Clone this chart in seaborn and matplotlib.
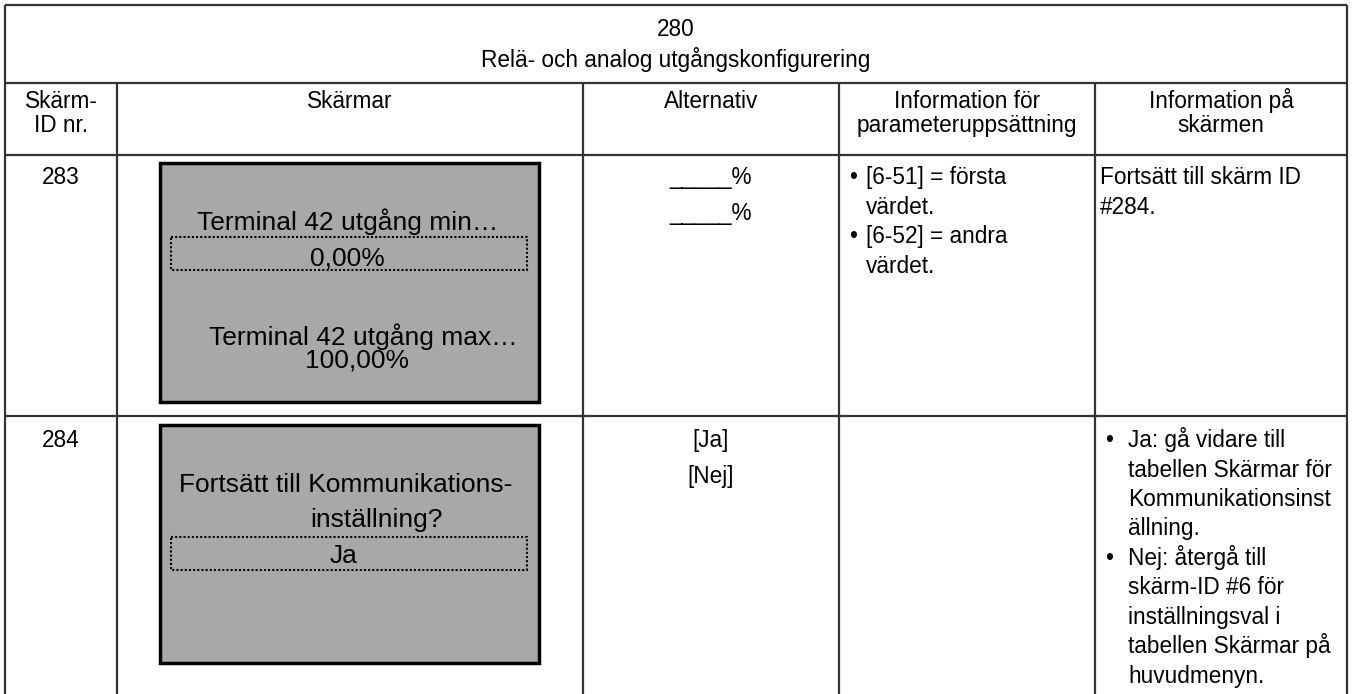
import matplotlib.pyplot as plt
import seaborn as sns
from matplotlib.patches import Rectangle

# Table content
title_lines = ["280", "Relä- och analog utgångskonfigurering"]
col_headers = [["Skärm-", "ID nr."], ["Skärmar"], ["Alternativ"],
               ["Information för", "parameteruppsättning"],
               ["Information på", "skärmen"]]
screen_ids = ["283", "284"]
screen_lines = [
    ["Terminal 42 utgång min…", "0,00%", "Terminal 42 utgång max…", "100,00%"],
    ["Fortsätt till Kommunikations-", "inställning?", "Ja"],
]
alternatives = [["_____%", "_____%"], ["[Ja]", "[Nej]"]]
param_info = [
    [["[6-51] = första", "värdet."], ["[6-52] = andra", "värdet."]],
    [],
]
screen_info_plain = [["Fortsätt till skärm ID", "#284."], []]
screen_info_bullets = [
    [],
    [["Ja: gå vidare till", "tabellen Skärmar för", "Kommunikationsinst", "ällning."],
     ["Nej: återgå till", "skärm-ID #6 för", "inställningsval i",
      "tabellen Skärmar på", "huvudmenyn."]],
]

sns.set_theme(style="white")
plt.rcParams['font.family'] = ['Liberation Sans', 'DejaVu Sans']

fig = plt.figure(figsize=(13.53, 6.94), dpi=100)
ax = fig.add_axes([0, 0, 1, 1])
ax.set_xlim(0, 1353)
ax.set_ylim(694, 0)
ax.axis('off')

# grid
col_x = [5, 117, 583, 839, 1095, 1347]
row_y = [5, 83, 155, 416]
row_base = [184, 447]
line_kw = dict(color='#333333', lw=1.6)
ax.hlines(row_y, col_x[0], col_x[-1], **line_kw)
ax.vlines([col_x[0], col_x[-1]], row_y[0], 694, **line_kw)
ax.vlines(col_x[1:-1], row_y[1], 694, **line_kw)

fs = 16.3
sfs = 19
txt = dict(fontsize=fs, color='black', va='baseline')

# title
for i, t in enumerate(title_lines):
    ax.text((col_x[0] + col_x[-1]) / 2, 36 + 31 * i, t, ha='center', **txt)

# column headers
for c, lines in enumerate(col_headers):
    cx = (col_x[c] + col_x[c + 1]) / 2
    for i, t in enumerate(lines):
        ax.text(cx, 108 + 24 * i, t, ha='center', **txt)

# screen boxes
box_tops = [163, 425]
box_h = [239, 238]
dot_tops = [237, 537]
screen_pos = [
    [(348, 230), (347, 265), (363, 345), (357, 367)],
    [(346, 492), (376, 527), (344, 563)],
]
for r in range(2):
    ax.add_patch(Rectangle((160, box_tops[r]), 379, box_h[r], facecolor='#a8a8a8',
                           edgecolor='black', lw=2.5))
    ax.add_patch(Rectangle((171, dot_tops[r]), 356, 33, facecolor='none',
                           edgecolor='black', lw=1.5, linestyle=(0, (1, 1))))
    for t, (x, y) in zip(screen_lines[r], screen_pos[r]):
        ax.text(x, y, t, ha='center', fontsize=sfs, va='baseline', color='black')

lh = 29.5
for r in range(2):
    base = row_base[r]
    # id
    ax.text((col_x[0] + col_x[1]) / 2, base, screen_ids[r], ha='center', **txt)
    # alternatives
    for i, t in enumerate(alternatives[r]):
        ax.text((col_x[2] + col_x[3]) / 2, base + 36 * i, t, ha='center', **txt)
    # parameter info
    k = 0
    for bullet in param_info[r]:
        ax.text(col_x[3] + 10, base + lh * k, "•", ha='left', **txt)
        for line in bullet:
            ax.text(col_x[3] + 27, base + lh * k, line, ha='left', **txt)
            k += 1
    # info on screen
    for i, line in enumerate(screen_info_plain[r]):
        ax.text(col_x[4] + 5, base + lh * i, line, ha='left', **txt)
    k = 0
    for bullet in screen_info_bullets[r]:
        ax.text(col_x[4] + 10, base + lh * k, "•", ha='left', **txt)
        for line in bullet:
            ax.text(col_x[4] + 33, base + lh * k, line, ha='left', **txt)
            k += 1

fig.savefig("out.png", dpi=100)
